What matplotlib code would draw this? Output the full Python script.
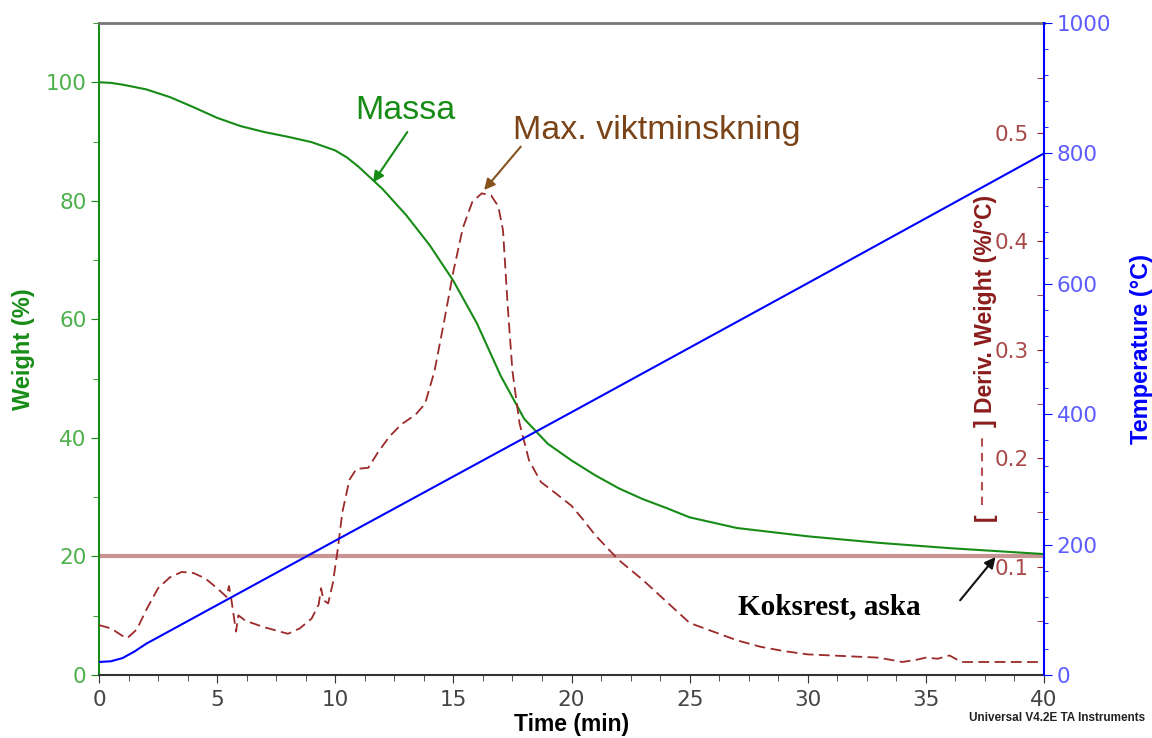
import numpy as np
import matplotlib.pyplot as plt
from matplotlib.ticker import MultipleLocator, FixedLocator
from matplotlib.lines import Line2D

# TGA-körning: massa, derivata och temperatur mot tid
time_w = [0, 0.5, 1, 2, 3, 4, 5, 6, 7, 8, 9, 10, 10.5, 11, 12, 13, 14, 15, 16, 17,
          18, 19, 20, 21, 22, 23, 24, 25, 27, 30, 33, 36, 40]
weight = [100, 99.9, 99.6, 98.8, 97.5, 95.8, 94.0, 92.6, 91.6, 90.8, 89.9, 88.5, 87.3,
          85.7, 82.0, 77.6, 72.5, 66.5, 59.3, 50.5, 43.2, 39.0, 36.2, 33.7, 31.5, 29.7,
          28.2, 26.6, 24.8, 23.4, 22.3, 21.4, 20.4]

time_d = [0, 0.5, 1.0, 1.2, 1.6, 2.0, 2.5, 3.0, 3.5, 4.0, 4.5, 5.0, 5.4, 5.5, 5.6, 5.8,
          5.9, 6.2, 7.0, 7.5, 8.0, 8.5, 9.0, 9.3, 9.4, 9.5, 9.7, 9.9, 10.1, 10.3, 10.6,
          10.9, 11.4, 11.8, 12.3, 12.8, 13.4, 13.8, 14.2, 14.6, 15.0, 15.4, 15.8, 16.2,
          16.6, 16.9, 17.1, 17.3, 17.5, 17.8, 18.2, 18.7, 19.3, 20.0, 20.5, 21.0, 22.0,
          23.0, 24.0, 25.0, 26.0, 27.0, 28.0, 29.0, 30.0, 31.0, 32.0, 33.0, 34.0, 34.6,
          35.0, 35.5, 36.0, 36.5, 38.0, 40.0]
deriv = [0.046, 0.043, 0.036, 0.034, 0.042, 0.060, 0.080, 0.090, 0.095, 0.094, 0.089,
         0.080, 0.072, 0.082, 0.070, 0.040, 0.055, 0.050, 0.044, 0.041, 0.038, 0.043,
         0.052, 0.065, 0.080, 0.069, 0.066, 0.085, 0.115, 0.150, 0.180, 0.190, 0.191,
         0.205, 0.220, 0.231, 0.240, 0.250, 0.280, 0.325, 0.372, 0.412, 0.436, 0.444,
         0.442, 0.432, 0.410, 0.340, 0.280, 0.232, 0.198, 0.178, 0.168, 0.156, 0.143,
         0.129, 0.106, 0.088, 0.068, 0.048, 0.040, 0.032, 0.026, 0.022, 0.019, 0.018,
         0.017, 0.016, 0.012, 0.014, 0.016, 0.015, 0.018, 0.012, 0.012, 0.012]

time_t = [0, 0.5, 1, 1.5, 2, 10, 20, 30, 40]
temp = [20, 21, 26, 36, 48, 206, 403, 601, 800]

residue = 20  # Koksrest, aska (%)

GREEN = '#168c16'
BLUE = '#0000ff'
DRED = '#9c2a2a'
SANS = 'Liberation Sans'

plt.rcParams['font.family'] = 'DejaVu Sans'

fig = plt.figure(figsize=(11.52, 7.38), dpi=100)
ax = fig.add_axes([99 / 1152, 1 - 675 / 738, 945 / 1152, 652 / 738])
ax2 = ax.twinx()
ax3 = ax.twinx()

# vikt (vänster axel)
ax.axhline(residue, color='#c89494', lw=3, zorder=1)
ax.plot(time_w, weight, color=GREEN, lw=1.5, zorder=3)
ax.set_xlim(0, 40)
ax.set_ylim(0, 110)
ax.yaxis.set_major_locator(FixedLocator([0, 20, 40, 60, 80, 100]))
ax.yaxis.set_minor_locator(MultipleLocator(10))
ax.xaxis.set_major_locator(MultipleLocator(5))
ax.xaxis.set_minor_locator(MultipleLocator(1.25))
ax.tick_params(axis='y', which='both', colors=GREEN, labelcolor='#4cb04c',
               labelsize=15.5, direction='out', length=6, pad=3)
ax.tick_params(axis='y', which='minor', length=4)
ax.tick_params(axis='x', which='both', colors='#333333', labelcolor='#444444',
               labelsize=15.5, direction='out', length=6, pad=5)
ax.tick_params(axis='x', which='minor', length=4)
ax.spines['left'].set_color(GREEN)
ax.spines['left'].set_linewidth(1.5)
ax.spines['bottom'].set_color('#333333')
ax.spines['bottom'].set_linewidth(1.5)
ax.spines['top'].set_color('#777777')
ax.spines['top'].set_linewidth(2)
ax.spines['right'].set_visible(False)
ax.set_xlabel('Time (min)', fontfamily=SANS, fontweight='bold', fontsize=16.5,
              labelpad=2)
ax.set_ylabel('Weight (%)', fontfamily=SANS, fontweight='bold', fontsize=17,
              color=GREEN, labelpad=8)

# derivata (ticks innanför högra kanten)
ax2.plot(time_d, deriv, color=DRED, lw=1.3, ls=(0, (6, 3)))
ax2.set_ylim(0, 0.601)
for s in ax2.spines.values():
    s.set_visible(False)
ax2.spines['left'].set_position(('axes', 1.0))
ax2.yaxis.set_ticks_position('left')
ax2.yaxis.set_major_locator(FixedLocator([0.1, 0.2, 0.3, 0.4, 0.5]))
ax2.yaxis.set_minor_locator(FixedLocator([0.05, 0.15, 0.25, 0.35, 0.45, 0.55]))
ax2.yaxis.set_major_formatter(plt.FuncFormatter(lambda v, p: f'{v:.1f}'))
ax2.tick_params(axis='y', which='both', colors=DRED, labelcolor='#a84848',
                labelsize=15.5, direction='out', length=5, pad=6)

# temperatur (yttre högra axel)
ax3.plot(time_t, temp, color=BLUE, lw=1.5)
ax3.set_ylim(0, 1000)
ax3.yaxis.set_major_locator(MultipleLocator(200))
ax3.yaxis.set_minor_locator(MultipleLocator(40))
for name in ['left', 'top', 'bottom']:
    ax3.spines[name].set_visible(False)
ax3.spines['right'].set_color(BLUE)
ax3.spines['right'].set_linewidth(1.5)
ax3.tick_params(axis='y', which='both', colors=BLUE, labelcolor='#5c5cff',
                labelsize=15.5, direction='out', length=6, pad=3)
ax3.tick_params(axis='y', which='minor', length=3)
ax3.set_ylabel('Temperature (°C)', fontfamily=SANS, fontweight='bold', fontsize=17,
               color=BLUE, labelpad=14)

# etikett för derivataxeln med linjesymbol
ax2.text(0.9376, 0.569, 'Deriv. Weight (%/°C)', transform=ax.transAxes, rotation=90,
         ha='center', va='center', fontfamily=SANS, fontweight='bold', fontsize=16.5,
         color='#8b1c1c')
ax2.text(0.9376, (675 - 423) / 652, ']', transform=ax.transAxes, rotation=90,
         ha='center', va='center', fontfamily=SANS, fontweight='bold', fontsize=16.5,
         color='#8b1c1c')
ax2.text(0.9376, (675 - 517) / 652, '[', transform=ax.transAxes, rotation=90,
         ha='center', va='center', fontfamily=SANS, fontweight='bold', fontsize=16.5,
         color='#8b1c1c')
fig.add_artist(Line2D([982 / 1152, 982 / 1152], [1 - 505 / 738, 1 - 432 / 738],
                      color='#b45050', lw=1.5, ls=(0, (4, 3)),
                      transform=fig.transFigure))

# annoteringar
ax.text(12.95, 95.3, 'Massa', fontfamily=SANS, fontsize=24.5, color=GREEN,
        ha='center', va='center')
ax.annotate('', xy=(11.6, 83.1), xytext=(13.05, 91.6),
            arrowprops=dict(arrowstyle='-|>', color=GREEN, lw=1.5,
                            mutation_scale=16, shrinkA=0, shrinkB=0))

ax2.text(23.6, 0.502, 'Max. viktminskning', fontfamily=SANS, fontsize=24.5,
         color='#7a4418', ha='center', va='center')
ax2.annotate('', xy=(16.3, 0.447), xytext=(17.85, 0.487),
             arrowprops=dict(arrowstyle='-|>', color='#86521e', lw=1.5,
                             mutation_scale=16, shrinkA=0, shrinkB=0))

ax.text(30.9, 11.6, 'Koksrest, aska', fontfamily='Liberation Serif', fontweight='bold',
        fontsize=21, color='black', ha='center', va='center')
ax.annotate('', xy=(37.95, 19.9), xytext=(36.45, 12.6),
            arrowprops=dict(arrowstyle='-|>', color='#111111', lw=1.5,
                            mutation_scale=16, shrinkA=0, shrinkB=0))

fig.text(1145 / 1152, 1 - 718 / 738, 'Universal V4.2E TA Instruments', fontfamily=SANS,
         fontweight='bold', fontsize=8.5, color='#222222', ha='right', va='center')

fig.savefig('out.png', dpi=100)
